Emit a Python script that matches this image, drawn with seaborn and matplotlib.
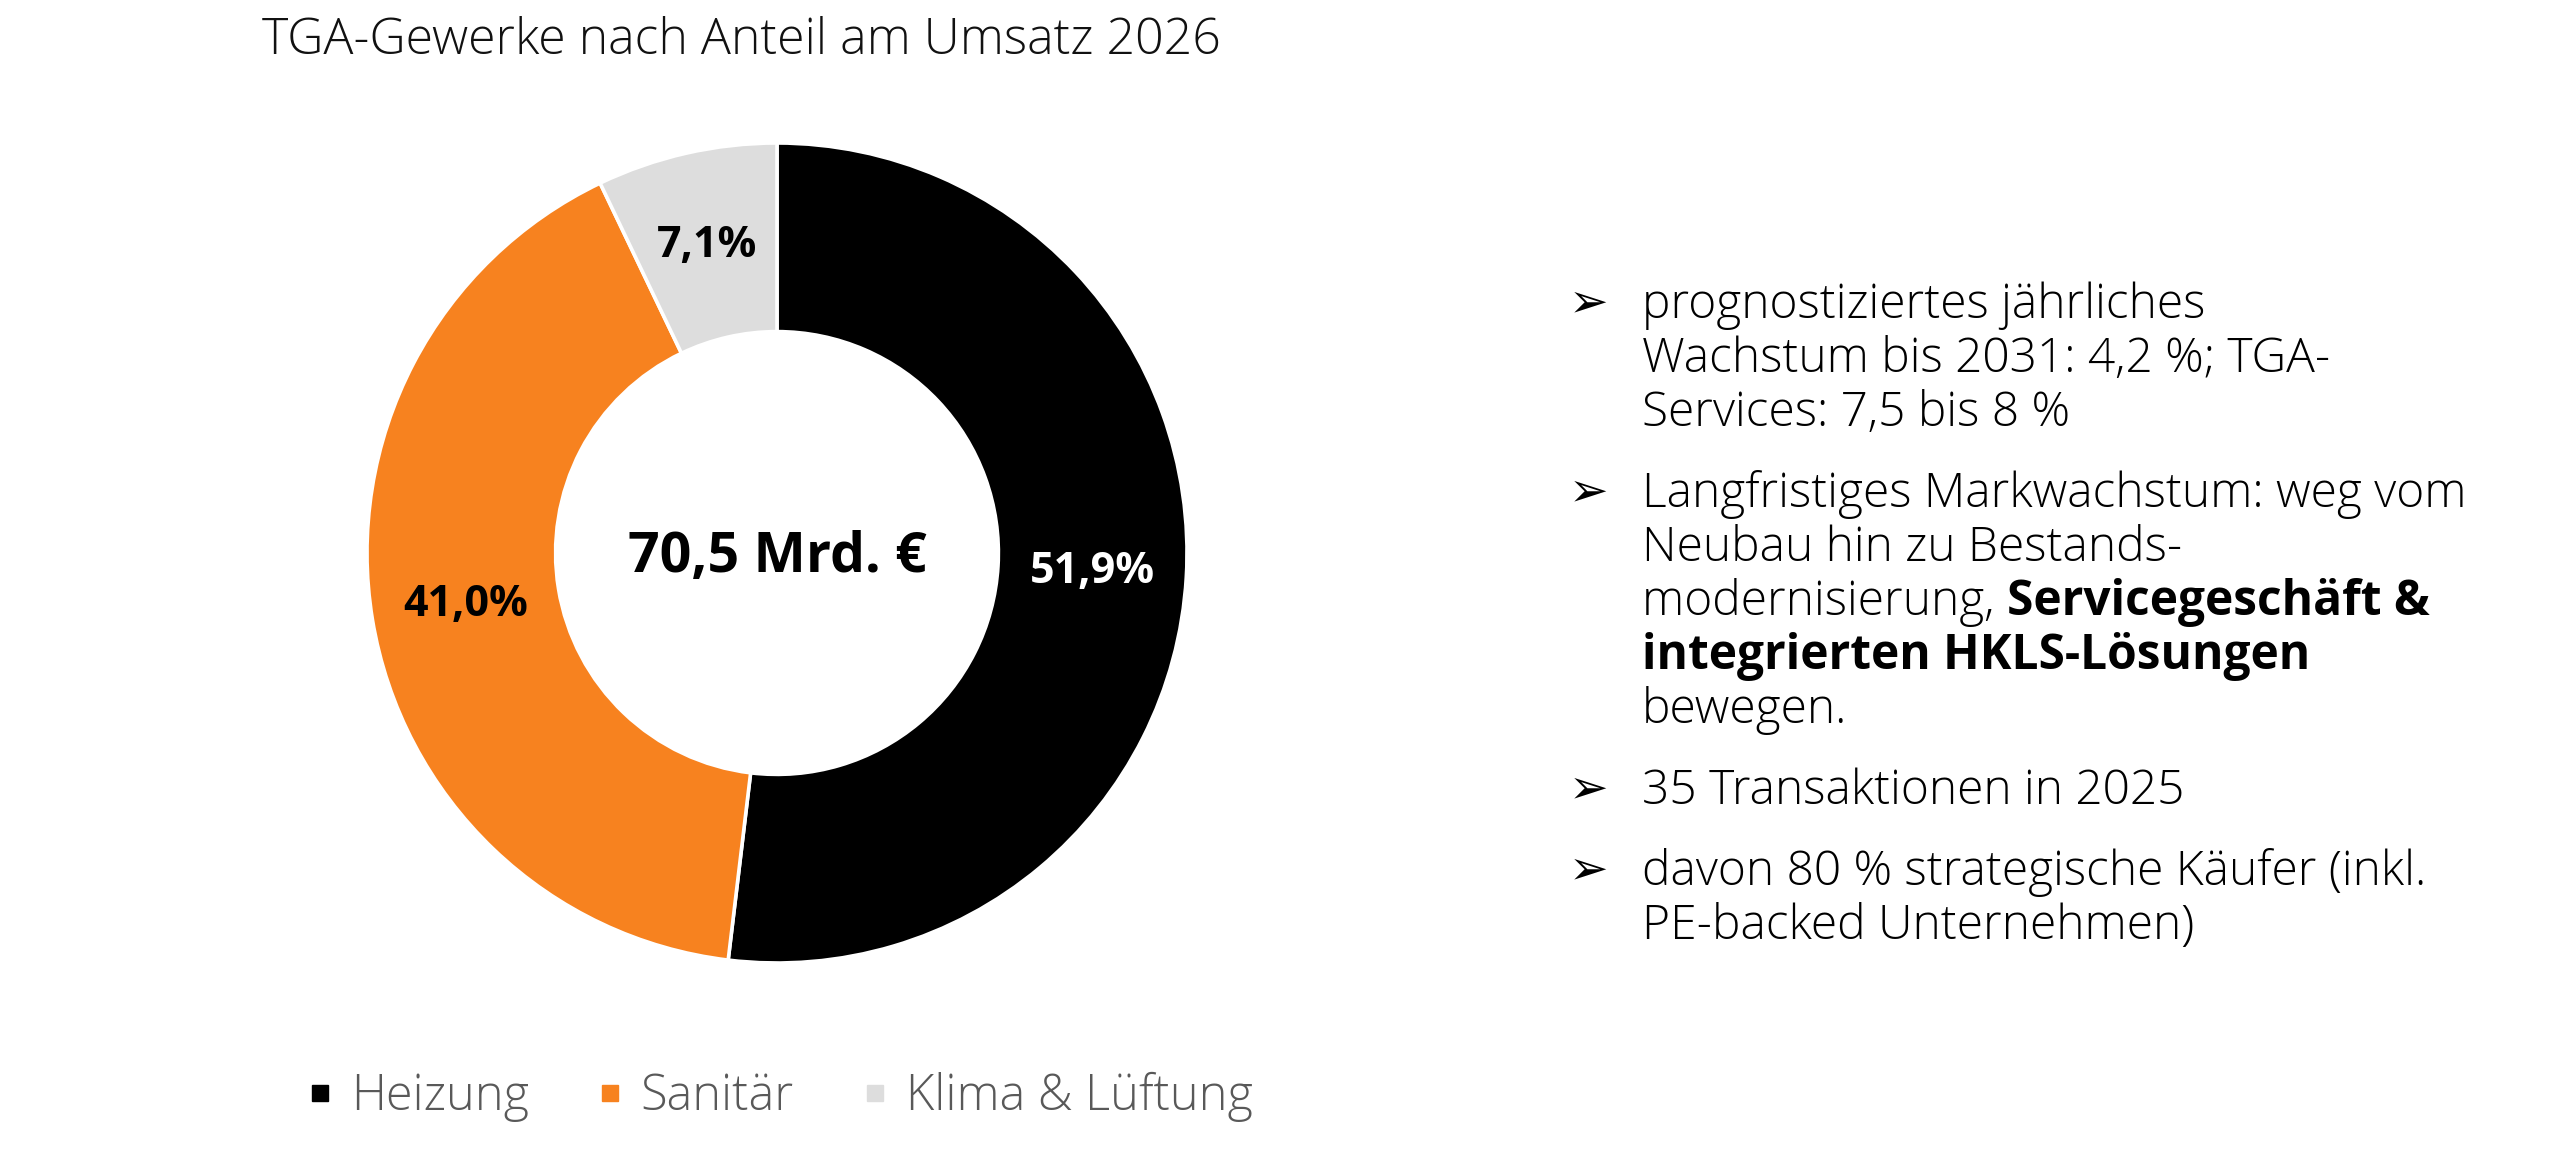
import matplotlib
matplotlib.use("Agg")
import matplotlib.pyplot as plt
from matplotlib.lines import Line2D
from matplotlib.transforms import IdentityTransform
import seaborn as sns

# ---------------- data ----------------
title_text = "TGA-Gewerke nach Anteil am Umsatz 2026"
categories = ["Heizung", "Sanitär", "Klima & Lüftung"]
shares = [51.9, 41.0, 7.1]
slice_colors = ["#000000", "#F7821F", "#DDDDDD"]
pct_colors = ["white", "black", "black"]
center_label = "70,5 Mrd. €"

bullet_paragraphs = [
    [[("prognostiziertes jährliches", "normal")],
     [("Wachstum bis 2031: 4,2 %; TGA-", "normal")],
     [("Services: 7,5 bis 8 %", "normal")]],
    [[("Langfristiges Markwachstum: weg vom", "normal")],
     [("Neubau hin zu Bestands-", "normal")],
     [("modernisierung, ", "normal"), ("Servicegeschäft &", "bold")],
     [("integrierten HKLS-Lösungen", "bold")],
     [("bewegen.", "normal")]],
    [[("35 Transaktionen in 2025", "normal")]],
    [[("davon 80 % strategische Käufer (inkl.", "normal")],
     [("PE-backed Unternehmen)", "normal")]],
]

# ---------------- style ----------------
sns.set_theme(style="white")
FAM = ["Open Sans", "DejaVu Sans"]
plt.rcParams["font.family"] = FAM

W, H = 2560, 1153
fig = plt.figure(figsize=(W / 100, H / 100), dpi=100)
fig.patch.set_facecolor("white")

def fx(x):
    return x / W

def fy(y):
    return 1 - y / H

# ---------------- donut ----------------
cx, cy, R = 777, 553, 410
ax = fig.add_axes([fx(cx - R), fy(cy + R), 2 * R / W, 2 * R / H])
wedges, _, autotexts = ax.pie(
    shares,
    colors=slice_colors,
    startangle=90,
    counterclock=False,
    radius=1.0,
    autopct=lambda p: f"{p:.1f}%".replace(".", ","),
    pctdistance=0.77,
    wedgeprops=dict(width=0.46, edgecolor="white", linewidth=2.6),
    textprops=dict(fontsize=31, fontweight="bold"),
)
for t, c in zip(autotexts, pct_colors):
    t.set_color(c)
ax.text(0, -0.01, center_label, ha="center", va="center",
        fontsize=40, fontweight="bold", color="black")
ax.set_xlim(-1, 1)
ax.set_ylim(-1, 1)
ax.set_aspect("equal")
ax.axis("off")

# ---------------- title ----------------
fig.text(fx(262), fy(41), title_text, ha="left", va="center",
         fontsize=36, fontweight="light", color="#111111")

# ---------------- legend ----------------
handles = [Line2D([0], [0], marker="s", linestyle="none", markersize=12,
                  markerfacecolor=c, markeredgecolor=c) for c in slice_colors]
fig.legend(handles, categories, loc="center",
           bbox_to_anchor=(fx(781), fy(1097)), ncol=3, frameon=False,
           handlelength=0.45, handletextpad=0.4, columnspacing=1.45,
           labelcolor="#595959",
           prop=dict(family=FAM, size=35, weight="light"))

# ---------------- bullet text ----------------
renderer = fig.canvas.get_renderer()
bullet_x, text_x = 1569, 1642
line_step, para_step = 54, 81
y = 318
body_size = 34.5
for para in bullet_paragraphs:
    fig.text(bullet_x, H - (y - 14), "➢", transform=IdentityTransform(),
             ha="left", va="center", fontsize=34,
             family=["DejaVu Sans"], color="black")
    for i, line in enumerate(para):
        if i > 0:
            y += line_step
        x = text_x
        for seg, wt in line:
            t = fig.text(x, H - y, seg, transform=IdentityTransform(),
                         ha="left", va="baseline", fontsize=body_size,
                         fontweight=("bold" if wt == "bold" else "light"),
                         color="black")
            x = t.get_window_extent(renderer).x1
    y += para_step

fig.savefig("out.png", dpi=100, facecolor="white")
